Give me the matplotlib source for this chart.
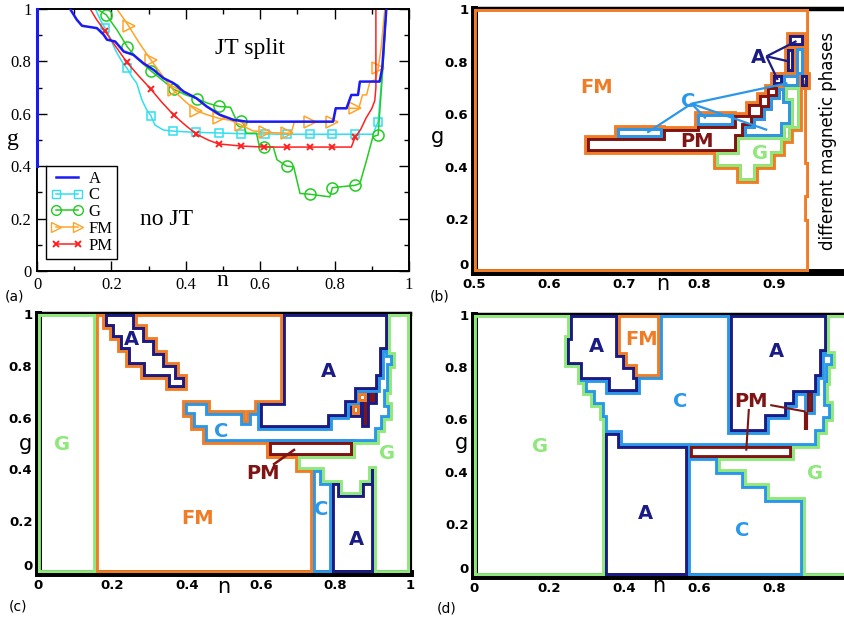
import matplotlib
matplotlib.use('Agg')
import matplotlib.pyplot as plt
from matplotlib.patches import Polygon
from matplotlib.lines import Line2D

# ---------------- panel (a) data ----------------
A_n = [0.089,0.107,0.121,0.161,0.179,0.188,0.210,0.233,0.259,0.286,0.313,0.340,0.367,0.394,0.429,0.456,0.492,0.528,0.564,0.796,0.803,0.832,0.845,0.863,0.868,0.921,0.928,0.939]
A_g = [1.0,0.959,0.936,0.927,0.902,0.883,0.876,0.838,0.825,0.793,0.768,0.736,0.717,0.685,0.659,0.628,0.596,0.577,0.570,0.570,0.621,0.621,0.672,0.672,0.723,0.723,0.774,1.0]
A_edge_n = [0.0, 0.0]
A_edge_g = [1.0, 0.40]

C_n = [0.157,0.170,0.183,0.197,0.210,0.228,0.242,0.255,0.268,0.282,0.295,0.306,0.317,0.340,0.365,0.428,0.488,0.549,0.613,0.673,0.733,0.794,0.855,0.903,0.917,0.930,0.939]
C_g = [1.0,0.959,0.927,0.889,0.845,0.800,0.774,0.742,0.717,0.653,0.615,0.593,0.557,0.538,0.534,0.529,0.527,0.524,0.523,0.522,0.522,0.522,0.522,0.522,0.570,0.790,1.0]
C_mn = [0.183,0.242,0.306,0.365,0.428,0.488,0.549,0.613,0.673,0.733,0.794,0.855,0.917]
C_mg = [0.927,0.774,0.593,0.534,0.529,0.527,0.524,0.523,0.522,0.522,0.522,0.522,0.570]

G_n = [0.161,0.186,0.215,0.243,0.270,0.306,0.340,0.367,0.400,0.429,0.460,0.489,0.520,0.528,0.535,0.549,0.556,0.562,0.590,0.597,0.611,0.635,0.645,0.671,0.690,0.707,0.733,0.787,0.794,0.855,0.868,0.886,0.903,0.917,0.930,0.939]
G_g = [1.0,0.978,0.920,0.855,0.810,0.764,0.725,0.694,0.672,0.658,0.640,0.628,0.625,0.600,0.578,0.574,0.560,0.526,0.526,0.480,0.474,0.474,0.425,0.400,0.398,0.296,0.293,0.283,0.318,0.327,0.334,0.423,0.513,0.519,0.780,1.0]
G_mn = [0.186,0.243,0.306,0.367,0.429,0.489,0.549,0.611,0.671,0.733,0.794,0.855,0.917]
G_mg = [0.978,0.855,0.764,0.694,0.658,0.628,0.574,0.474,0.400,0.293,0.318,0.327,0.519]

FM_n = [0.215,0.246,0.275,0.306,0.335,0.367,0.400,0.428,0.460,0.488,0.520,0.549,0.580,0.613,0.673,0.683,0.692,0.733,0.794,0.803,0.855,0.865,0.875,0.886,0.895,0.910,0.917,0.925,0.935]
FM_g = [1.0,0.936,0.870,0.806,0.750,0.689,0.645,0.612,0.595,0.583,0.575,0.557,0.535,0.529,0.526,0.526,0.570,0.570,0.570,0.621,0.621,0.621,0.672,0.672,0.723,0.730,0.774,0.850,1.0]
FM_mn = [0.246,0.306,0.367,0.428,0.488,0.549,0.613,0.673,0.733,0.794,0.855,0.917]
FM_mg = [0.936,0.806,0.689,0.612,0.583,0.557,0.529,0.526,0.570,0.570,0.621,0.774]

PM_n = [0.143,0.160,0.183,0.210,0.242,0.270,0.306,0.335,0.367,0.400,0.428,0.460,0.488,0.549,0.611,0.794,0.845,0.855,0.870,0.885,0.900,0.908,0.911,0.911]
PM_g = [1.0,0.960,0.915,0.860,0.796,0.750,0.694,0.645,0.596,0.555,0.523,0.500,0.485,0.477,0.473,0.473,0.473,0.510,0.540,0.585,0.620,0.650,0.700,1.0]
PM_mn = [0.183,0.242,0.306,0.367,0.428,0.488,0.549,0.611,0.671,0.733,0.794,0.855]
PM_mg = [0.915,0.796,0.694,0.596,0.523,0.485,0.477,0.473,0.473,0.473,0.473,0.510]

legend_labels = ['A', 'C', 'G', 'FM', 'PM']

# ---------------- panel (b) regions ----------------
b_FM = [(0.5,0),(0.5,1.0),(0.947,1.0),(0.947,0.72),(0.944,0.72),(0.944,0.42),(0.947,0.42),(0.947,0.28),(0.944,0.28),(0.944,0.20),(0.947,0.20),(0.947,0)]
b_PM = [(0.650,0.458),(0.650,0.508),(0.752,0.508),(0.752,0.545),(0.797,0.545),(0.797,0.555),(0.846,0.555),(0.846,0.597),(0.865,0.597),(0.865,0.640),(0.880,0.640),(0.880,0.672),(0.890,0.672),(0.890,0.705),(0.905,0.705),(0.905,0.665),(0.895,0.665),(0.895,0.625),(0.885,0.625),(0.885,0.585),(0.872,0.585),(0.872,0.555),(0.860,0.555),(0.860,0.512),(0.850,0.512),(0.850,0.458)]
b_C1 = [(0.690,0.508),(0.690,0.548),(0.752,0.548),(0.752,0.508)]
b_C2 = [(0.797,0.555),(0.797,0.600),(0.846,0.600),(0.846,0.555)]
b_C3 = [(0.860,0.512),(0.860,0.555),(0.872,0.555),(0.872,0.585),(0.885,0.585),(0.885,0.625),(0.895,0.625),(0.895,0.665),(0.905,0.665),(0.905,0.700),(0.915,0.700),(0.915,0.650),(0.922,0.650),(0.922,0.560),(0.912,0.560),(0.912,0.512)]
b_G = [(0.822,0.458),(0.822,0.400),(0.853,0.400),(0.853,0.345),(0.876,0.345),(0.876,0.400),(0.898,0.400),(0.898,0.450),(0.912,0.450),(0.912,0.500),(0.923,0.500),(0.923,0.545),(0.934,0.545),(0.934,0.705),(0.915,0.705),(0.915,0.650),(0.922,0.650),(0.922,0.560),(0.912,0.560),(0.912,0.512),(0.850,0.512),(0.850,0.458)]
b_A1 = [(0.920,0.858),(0.920,0.900),(0.940,0.900),(0.940,0.858)]
b_A2 = [(0.917,0.760),(0.917,0.848),(0.926,0.848),(0.926,0.760)]
b_C4 = [(0.929,0.750),(0.929,0.852),(0.940,0.852),(0.940,0.750)]
b_A3 = [(0.898,0.710),(0.898,0.750),(0.912,0.750),(0.912,0.710)]
b_C5 = [(0.912,0.705),(0.912,0.750),(0.933,0.750),(0.933,0.705)]
b_A4 = [(0.936,0.705),(0.936,0.750),(0.945,0.750),(0.945,0.705)]
b_A_from = (0.890, 0.820)
b_A_to = [(0.930,0.878),(0.921,0.800),(0.905,0.730)]
b_C_from = (0.790, 0.640)
b_C_to = [(0.731,0.530),(0.809,0.584),(0.891,0.540),(0.918,0.718)]

# ---------------- panel (c) regions ----------------
c_G1 = [(0,0),(0,1),(0.155,1),(0.155,0)]
c_FM = [(0.155,0),(0.155,1),(0.659,1),(0.659,0.655),(0.588,0.655),(0.588,0.617),(0.566,0.617),(0.566,0.578),(0.552,0.578),(0.552,0.617),(0.458,0.617),(0.458,0.655),(0.395,0.655),(0.395,0.610),(0.418,0.610),(0.418,0.559),(0.449,0.559),(0.449,0.507),(0.622,0.507),(0.622,0.452),(0.699,0.452),(0.699,0.397),(0.740,0.397),(0.740,0)]
c_A1 = [(0.180,1.0),(0.180,0.951),(0.198,0.951),(0.198,0.906),(0.220,0.906),(0.220,0.861),(0.243,0.861),(0.243,0.803),(0.283,0.803),(0.283,0.758),(0.350,0.758),(0.350,0.713),(0.395,0.713),(0.395,0.758),(0.373,0.758),(0.373,0.803),(0.341,0.803),(0.341,0.848),(0.315,0.848),(0.315,0.900),(0.288,0.900),(0.288,0.951),(0.261,0.951),(0.261,1.0)]
c_A2 = [(0.659,1.0),(0.940,1.0),(0.940,0.861),(0.925,0.861),(0.925,0.758),(0.915,0.758),(0.915,0.707),(0.857,0.707),(0.857,0.655),(0.830,0.655),(0.830,0.604),(0.785,0.604),(0.785,0.559),(0.597,0.559),(0.597,0.655),(0.659,0.655)]
c_C1 = [(0.395,0.655),(0.458,0.655),(0.458,0.617),(0.552,0.617),(0.552,0.578),(0.566,0.578),(0.566,0.617),(0.588,0.617),(0.588,0.655),(0.597,0.655),(0.597,0.559),(0.785,0.559),(0.785,0.604),(0.830,0.604),(0.830,0.655),(0.857,0.655),(0.857,0.707),(0.915,0.707),(0.915,0.758),(0.925,0.758),(0.925,0.861),(0.940,0.861),(0.940,0.840),(0.955,0.840),(0.955,0.800),(0.943,0.800),(0.943,0.700),(0.935,0.700),(0.935,0.650),(0.945,0.650),(0.945,0.600),(0.928,0.600),(0.928,0.552),(0.910,0.552),(0.910,0.507),(0.449,0.507),(0.449,0.559),(0.418,0.559),(0.418,0.610),(0.395,0.610)]
c_PM = [(0.622,0.452),(0.622,0.507),(0.846,0.507),(0.846,0.452)]
c_C2 = [(0.740,0),(0.740,0.397),(0.763,0.397),(0.763,0.346),(0.790,0.346),(0.790,0)]
c_A3 = [(0.790,0),(0.790,0.346),(0.812,0.346),(0.812,0.301),(0.870,0.301),(0.870,0.346),(0.895,0.346),(0.895,0.400),(0.903,0.400),(0.903,0)]
c_G2 = [(0.699,0.452),(0.846,0.452),(0.846,0.507),(0.910,0.507),(0.910,0.552),(0.928,0.552),(0.928,0.600),(0.945,0.600),(0.945,0.650),(0.935,0.650),(0.935,0.700),(0.943,0.700),(0.943,0.800),(0.955,0.800),(0.955,0.840),(0.940,0.840),(0.940,1.0),(1.0,1.0),(1.0,0),(0.903,0),(0.903,0.400),(0.895,0.400),(0.895,0.346),(0.870,0.346),(0.870,0.301),(0.812,0.301),(0.812,0.346),(0.763,0.346),(0.763,0.397),(0.699,0.397)]
c_FMs1 = [(0.860,0.660),(0.860,0.695),(0.884,0.695),(0.884,0.660)]
c_FMs2 = [(0.844,0.610),(0.844,0.649),(0.866,0.649),(0.866,0.610)]
c_PMs1 = [(0.892,0.660),(0.892,0.695),(0.906,0.695),(0.906,0.660)]
c_PMs2 = [(0.877,0.570),(0.877,0.660),(0.885,0.660),(0.885,0.570)]
c_PM_ptr = [(0.632,0.418),(0.691,0.478)]

# ---------------- panel (d) regions ----------------
d_G1 = [(0,0),(0,1),(0.255,1),(0.255,0.911),(0.249,0.911),(0.249,0.808),(0.283,0.808),(0.283,0.745),(0.296,0.745),(0.296,0.700),(0.318,0.700),(0.318,0.655),(0.340,0.655),(0.340,0.604),(0.349,0.604),(0.349,0)]
d_A1 = [(0.255,1.0),(0.385,1.0),(0.385,0.847),(0.403,0.847),(0.403,0.802),(0.429,0.802),(0.429,0.764),(0.436,0.764),(0.436,0.706),(0.358,0.706),(0.358,0.751),(0.283,0.751),(0.283,0.808),(0.249,0.808),(0.249,0.911),(0.255,0.911)]
d_FM = [(0.385,1.0),(0.496,1.0),(0.496,0.764),(0.429,0.764),(0.429,0.802),(0.403,0.802),(0.403,0.847),(0.385,0.847)]
d_A2 = [(0.349,0),(0.349,0.547),(0.389,0.547),(0.389,0.500),(0.570,0.500),(0.570,0)]
d_A3 = [(0.683,1.0),(0.942,1.0),(0.942,0.860),(0.927,0.860),(0.927,0.764),(0.914,0.764),(0.914,0.700),(0.856,0.700),(0.856,0.655),(0.834,0.655),(0.834,0.610),(0.780,0.610),(0.780,0.553),(0.683,0.553)]
d_C1 = [(0.496,1.0),(0.683,1.0),(0.683,0.553),(0.780,0.553),(0.780,0.610),(0.834,0.610),(0.834,0.655),(0.856,0.655),(0.856,0.700),(0.914,0.700),(0.914,0.764),(0.927,0.764),(0.927,0.860),(0.942,0.860),(0.942,0.850),(0.958,0.850),(0.958,0.805),(0.945,0.805),(0.945,0.740),(0.938,0.740),(0.938,0.660),(0.952,0.660),(0.952,0.600),(0.935,0.600),(0.935,0.550),(0.915,0.550),(0.915,0.500),(0.389,0.500),(0.389,0.547),(0.349,0.547),(0.349,0.604),(0.340,0.604),(0.340,0.655),(0.318,0.655),(0.318,0.700),(0.296,0.700),(0.296,0.745),(0.283,0.745),(0.283,0.751),(0.358,0.751),(0.358,0.706),(0.436,0.706),(0.436,0.764),(0.496,0.764)]
d_PM = [(0.576,0.453),(0.576,0.500),(0.847,0.500),(0.847,0.453)]
d_C2 = [(0.570,0),(0.570,0.500),(0.576,0.500),(0.576,0.453),(0.650,0.453),(0.650,0.400),(0.720,0.400),(0.720,0.345),(0.782,0.345),(0.782,0.292),(0.878,0.292),(0.878,0)]
d_G2 = [(0.878,0),(1.0,0),(1.0,1.0),(0.942,1.0),(0.942,0.850),(0.958,0.850),(0.958,0.805),(0.945,0.805),(0.945,0.740),(0.938,0.740),(0.938,0.660),(0.952,0.660),(0.952,0.600),(0.935,0.600),(0.935,0.550),(0.915,0.550),(0.915,0.500),(0.847,0.500),(0.847,0.453),(0.650,0.453),(0.650,0.400),(0.720,0.400),(0.720,0.345),(0.782,0.345),(0.782,0.292),(0.878,0.292)]
d_PMs1 = [(0.888,0.630),(0.888,0.700),(0.904,0.700),(0.904,0.630)]
d_PMs_line = [(0.885,0.630),(0.885,0.560)]
d_PM_ptr1 = [(0.733,0.640),(0.726,0.480)]
d_PM_ptr2 = [(0.790,0.655),(0.884,0.630)]

# ---------------- styling ----------------
W, H = 844, 618
fig = plt.figure(figsize=(W/100, H/100), dpi=100)

def axpos(l, t, r, b):
    return [l/W, 1 - b/H, (r - l)/W, (b - t)/H]

axa = fig.add_axes(axpos(37, 9, 409, 271))
axb = fig.add_axes(axpos(474, 9, 849, 272))
axc = fig.add_axes(axpos(38, 314, 410, 573))
axd = fig.add_axes(axpos(474, 315, 849, 576))

serif = 'Liberation Serif'
cA, cC, cG, cFM, cPM = '#1a1af5', '#30e0f0', '#22cc22', '#ffa428', '#ff2020'

# ---- panel a ----
axa.plot(A_n, A_g, color=cA, lw=1.8, zorder=3)
axa.plot(A_edge_n, A_edge_g, color=cA, lw=2.2, zorder=3, clip_on=False)
axa.plot(C_n, C_g, color=cC, lw=1.1)
axa.plot(C_mn, C_mg, ls='none', marker='s', mfc='none', mec=cC, ms=6, mew=1.1)
axa.plot(G_n, G_g, color=cG, lw=1.1)
axa.plot(G_mn, G_mg, ls='none', marker='o', mfc='none', mec=cG, ms=8, mew=1.1)
axa.plot(FM_n, FM_g, color=cFM, lw=1.1)
axa.plot(FM_mn, FM_mg, ls='none', marker='>', mfc='none', mec=cFM, ms=8, mew=1.1)
axa.plot(PM_n, PM_g, color=cPM, lw=1.1)
axa.plot(PM_mn, PM_mg, ls='none', marker='x', mec=cPM, ms=5, mew=1.4)
axa.set_xlim(0, 1); axa.set_ylim(0, 1)
axa.set_xticks([0, 0.2, 0.4, 0.6, 0.8, 1.0])
axa.set_xticklabels(['0', '0.2', '0.4', '0.6', '0.8', '1'])
axa.set_yticks([0, 0.2, 0.4, 0.6, 0.8, 1.0])
axa.set_yticklabels(['0', '0.2', '0.4', '0.6', '0.8', '1'])
axa.set_xticks([0.1, 0.3, 0.5, 0.7, 0.9], minor=True)
axa.set_yticks([0.1, 0.3, 0.5, 0.7, 0.9], minor=True)
axa.tick_params(which='both', direction='in', top=True, right=True, width=1.0)
axa.tick_params(which='major', length=7, pad=4)
axa.tick_params(which='minor', length=3.5)
for lab in axa.get_xticklabels() + axa.get_yticklabels():
    lab.set_fontfamily(serif); lab.set_fontsize(12)
for s in axa.spines.values():
    s.set_linewidth(1.4)
handles = [
    Line2D([], [], color=cA, lw=1.8),
    Line2D([], [], color=cC, lw=1.1, marker='s', mfc='none', mec=cC, ms=6),
    Line2D([], [], color=cG, lw=1.1, marker='o', mfc='none', mec=cG, ms=7),
    Line2D([], [], color=cFM, lw=1.1, marker='>', mfc='none', mec=cFM, ms=7),
    Line2D([], [], color=cPM, lw=1.1, marker='x', mec=cPM, ms=5, mew=1.4),
]
leg = axa.legend(handles, legend_labels, loc='lower left', bbox_to_anchor=(0.024, 0.046),
                 borderaxespad=0, numpoints=2, handlelength=1.9, handletextpad=0.35,
                 labelspacing=0.05, borderpad=0.3, fancybox=False, framealpha=1,
                 edgecolor='black', prop={'family': serif, 'size': 12})
leg.get_frame().set_linewidth(1.0)
axa.text(0.573, 0.851, 'JT split', ha='center', va='center', fontsize=17, family=serif)
axa.text(0.349, 0.195, 'no JT', ha='center', va='center', fontsize=17, family=serif)

# ---- phase diagram helpers ----
kA, kC, kG, kFM, kPM = '#1b1b85', '#2b97e8', '#8ee87a', '#f07d26', '#7e1414'
HALF = 2.1

def region(ax, verts, color, halo=None):
    if halo is not None:
        h = Polygon(verts, closed=True, fill=False, ec=halo, lw=2*HALF, joinstyle='miter', zorder=1.5)
        ax.add_patch(h)
    p = Polygon(verts, closed=True, fill=False, ec=color, lw=2*HALF, joinstyle='miter', zorder=2)
    ax.add_patch(p)
    p.set_clip_path(p)

def seg(ax, pts, color, lw=1.6):
    ax.plot([p[0] for p in pts], [p[1] for p in pts], color=color, lw=lw, zorder=4, solid_capstyle='butt')

def style_phase(ax, xlim, xticks, xlabels):
    ax.set_xlim(*xlim); ax.set_ylim(0, 1)
    ax.set_xticks(xticks); ax.set_xticklabels(xlabels)
    ax.set_yticks([0, 0.2, 0.4, 0.6, 0.8, 1.0])
    ax.set_yticklabels(['0', '0.2', '0.4', '0.6', '0.8', '1'])
    ax.tick_params(length=0, pad=4, labelsize=9.5)
    for lab in ax.get_xticklabels() + ax.get_yticklabels():
        lab.set_fontweight('bold')
    ax.spines['left'].set_linewidth(5.0)
    ax.spines['bottom'].set_linewidth(5.0)
    ax.spines['top'].set_linewidth(3.2)
    ax.spines['right'].set_linewidth(3.0)
    for s in ax.spines.values():
        s.set_zorder(1)
    ax.set_axisbelow(True)
    ax.get_yticklabels()[0].set_verticalalignment('bottom')

def lab(ax, x, y, s, color, size=14):
    ax.text(x, y, s, color=color, fontsize=size, fontweight='bold', ha='center', va='center', zorder=6)

# ---- panel b ----
region(axb, b_FM, kFM)
for poly, col in [(b_PM, kPM), (b_C1, kC), (b_C2, kC), (b_C3, kC), (b_G, kG),
                  (b_A1, kA), (b_A2, kA), (b_C4, kC), (b_A3, kA), (b_C5, kC), (b_A4, kA)]:
    region(axb, poly, col, halo=kFM)
for t in b_A_to:
    seg(axb, [b_A_from, t], kA)
for t in b_C_to:
    seg(axb, [b_C_from, t], kC)
style_phase(axb, (0.5, 1.0), [0.5, 0.6, 0.7, 0.8, 0.9], ['0.5', '0.6', '0.7', '0.8', '0.9'])
lab(axb, 0.664, 0.703, 'FM', kFM)
lab(axb, 0.797, 0.495, 'PM', kPM)
lab(axb, 0.881, 0.452, 'G', kG)
lab(axb, 0.879, 0.814, 'A', kA)
lab(axb, 0.785, 0.650, 'C', kC)
axb.text(0.972, 0.5, 'different magnetic phases', rotation=90, ha='center', va='center',
         fontsize=12, transform=axb.transData)

# ---- panel c ----
region(axc, c_G1, kG)
region(axc, c_FM, kFM)
region(axc, c_A1, kA, halo=kFM)
region(axc, c_A2, kA)
region(axc, c_C1, kC)
region(axc, c_PM, kPM, halo=kFM)
region(axc, c_C2, kC)
region(axc, c_A3, kA)
region(axc, c_G2, kG)
region(axc, c_FMs1, kFM, halo=kA)
region(axc, c_FMs2, kFM, halo=kA)
region(axc, c_PMs1, kPM, halo=kA)
region(axc, c_PMs2, kPM, halo=kA)
seg(axc, c_PM_ptr, kPM, lw=1.8)
style_phase(axc, (0, 1), [0, 0.2, 0.4, 0.6, 0.8, 1.0], ['0', '0.2', '0.4', '0.6', '0.8', '1'])
lab(axc, 0.251, 0.900, 'A', kA)
lab(axc, 0.780, 0.778, 'A', kA)
lab(axc, 0.493, 0.546, 'C', kC)
lab(axc, 0.065, 0.495, 'G', kG)
lab(axc, 0.937, 0.463, 'G', kG)
lab(axc, 0.605, 0.386, 'PM', kPM)
lab(axc, 0.430, 0.212, 'FM', kFM)
lab(axc, 0.760, 0.244, 'C', kC)
lab(axc, 0.855, 0.129, 'A', kA)

# ---- panel d ----
region(axd, d_G1, kG)
region(axd, d_A1, kA)
region(axd, d_FM, kFM)
region(axd, d_A2, kA)
region(axd, d_A3, kA)
region(axd, d_C1, kC)
region(axd, d_PM, kPM)
region(axd, d_C2, kC)
region(axd, d_G2, kG)
region(axd, d_PMs1, kPM, halo=kC)
seg(axd, d_PMs_line, kPM, lw=3)
seg(axd, d_PM_ptr1, kPM, lw=1.5)
seg(axd, d_PM_ptr2, kPM, lw=1.5)
style_phase(axd, (0, 1), [0, 0.2, 0.4, 0.6, 0.8], ['0', '0.2', '0.4', '0.6', '0.8'])
lab(axd, 0.327, 0.879, 'A', kA)
lab(axd, 0.447, 0.907, 'FM', kFM)
lab(axd, 0.807, 0.860, 'A', kA)
lab(axd, 0.549, 0.668, 'C', kC)
lab(axd, 0.176, 0.498, 'G', kG)
lab(axd, 0.456, 0.240, 'A', kA)
lab(axd, 0.716, 0.176, 'C', kC)
lab(axd, 0.909, 0.393, 'G', kG)
lab(axd, 0.740, 0.668, 'PM', kPM)

# ---- axis labels and panel labels (pixel positions) ----
def ftext(x, y, s, **kw):
    fig.text(x/W, 1 - y/H, s, ha='center', va='center', **kw)

ftext(222, 281, 'n', fontsize=17, family=serif)
ftext(13, 140, 'g', fontsize=17, family=serif)
ftext(663, 284, 'n', fontsize=15)
ftext(437, 137, 'g', fontsize=15)
ftext(224, 587, 'n', fontsize=15)
ftext(25, 444, 'g', fontsize=15)
ftext(659, 586, 'n', fontsize=15)
ftext(461, 443, 'g', fontsize=15)
ftext(14, 296, '(a)', fontsize=10)
ftext(440, 297, '(b)', fontsize=10)
ftext(18, 606, '(c)', fontsize=10)
ftext(447, 608, '(d)', fontsize=10)

fig.savefig('out.png', dpi=100)
